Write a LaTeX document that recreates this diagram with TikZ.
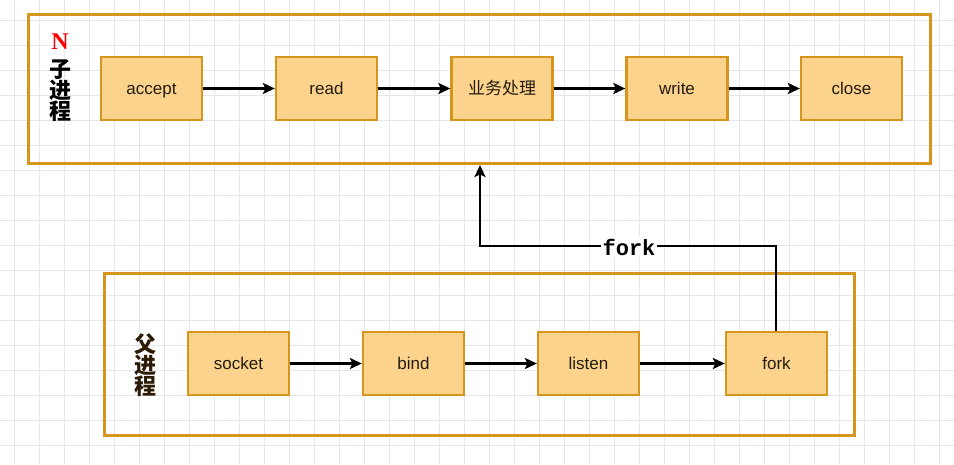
\documentclass[tikz,border=0pt]{standalone}
\usepackage{fontspec}
\setmainfont{Liberation Sans}
\newfontfamily\cjkfont{Noto Sans CJK SC}
\newfontfamily\monofont{Liberation Mono}
\newfontfamily\serifnfont{Liberation Serif}
\usetikzlibrary{arrows.meta}
\definecolor{gridc}{RGB}{230,230,241}
\definecolor{boxfill}{RGB}{252,211,140}
\definecolor{boxline}{RGB}{214,150,30}
\definecolor{darkbrown}{RGB}{45,28,5}
\definecolor{txt}{RGB}{35,28,15}
\tikzset{
  stepbox/.style={draw=boxline, fill=boxfill, line width=2.3pt, minimum width=101pt, minimum height=63pt, inner sep=0pt, text=txt, text height=15pt, text depth=3pt, font=\fontsize{17}{17}\selectfont},
  cjkbox/.style={stepbox, font=\cjkfont\fontsize{17}{17}\selectfont},
  group/.style={draw=boxline, line width=3pt},
  flow/.style={draw=black, line width=2.4pt, -{Stealth[length=12pt,width=11pt,inset=2.5pt]}},
  vlabel/.style={font=\cjkfont\bfseries\fontsize{22}{22}\selectfont, align=center, inner sep=0pt}
}
\begin{document}
\begin{tikzpicture}[x=1pt,y=-1pt]
\useasboundingbox (0,0) rectangle (954,464);
\fill[white] (0,0) rectangle (954,464);
% grid
\foreach \gx in {14,39,...,954} \draw[gridc, line width=0.8pt] (\gx,0) -- (\gx,464);
\foreach \gy in {20,45,...,464} \draw[gridc, line width=0.8pt] (0,\gy) -- (954,\gy);
% groups
\draw[group] (28,14) rectangle (930,163);
\draw[group] (104,273) rectangle (854,435);
% child process
\node[font=\serifnfont\bfseries\fontsize{24}{24}\selectfont, text=red, inner sep=0pt] (nlab) at (60,42) {N};
\node[vlabel, text=black] (childlab) at (60,91) {子\\[-1pt]进\\[-1pt]程};
\node[stepbox] (accept) at (151.5,88.5) {accept};
\node[stepbox] (read) at (326.5,88.5) {read};
\node[cjkbox] (biz) at (502,88.5) {业务处理};
\node[stepbox] (write) at (677,88.5) {write};
\node[stepbox] (close) at (851.5,88.5) {close};
\draw[flow] (accept) -- (read);
\draw[flow] (read) -- (biz);
\draw[flow] (biz) -- (write);
\draw[flow] (write) -- (close);
% parent process
\node[vlabel, text=darkbrown] (parentlab) at (145,365) {父\\[-1pt]进\\[-1pt]程};
\node[stepbox] (socket) at (238.5,363.5) {socket};
\node[stepbox] (bind) at (413.5,363.5) {bind};
\node[stepbox] (listen) at (588.5,363.5) {listen};
\node[stepbox] (fork) at (776.5,363.5) {fork};
\draw[flow] (socket) -- (bind);
\draw[flow] (bind) -- (listen);
\draw[flow] (listen) -- (fork);
% fork connector
\coordinate (forkturn) at (776,246);
\coordinate (upturn) at (480,246);
\coordinate (childbottom) at (480,165);
\draw[flow] (fork.north -| forkturn) -- (forkturn) -- (upturn) -- (childbottom);
\node[fill=white, inner sep=1.5pt, font=\monofont\bfseries\fontsize{22}{22}\selectfont] (forklab) at (629,247) {fork};
\end{tikzpicture}
\end{document}
